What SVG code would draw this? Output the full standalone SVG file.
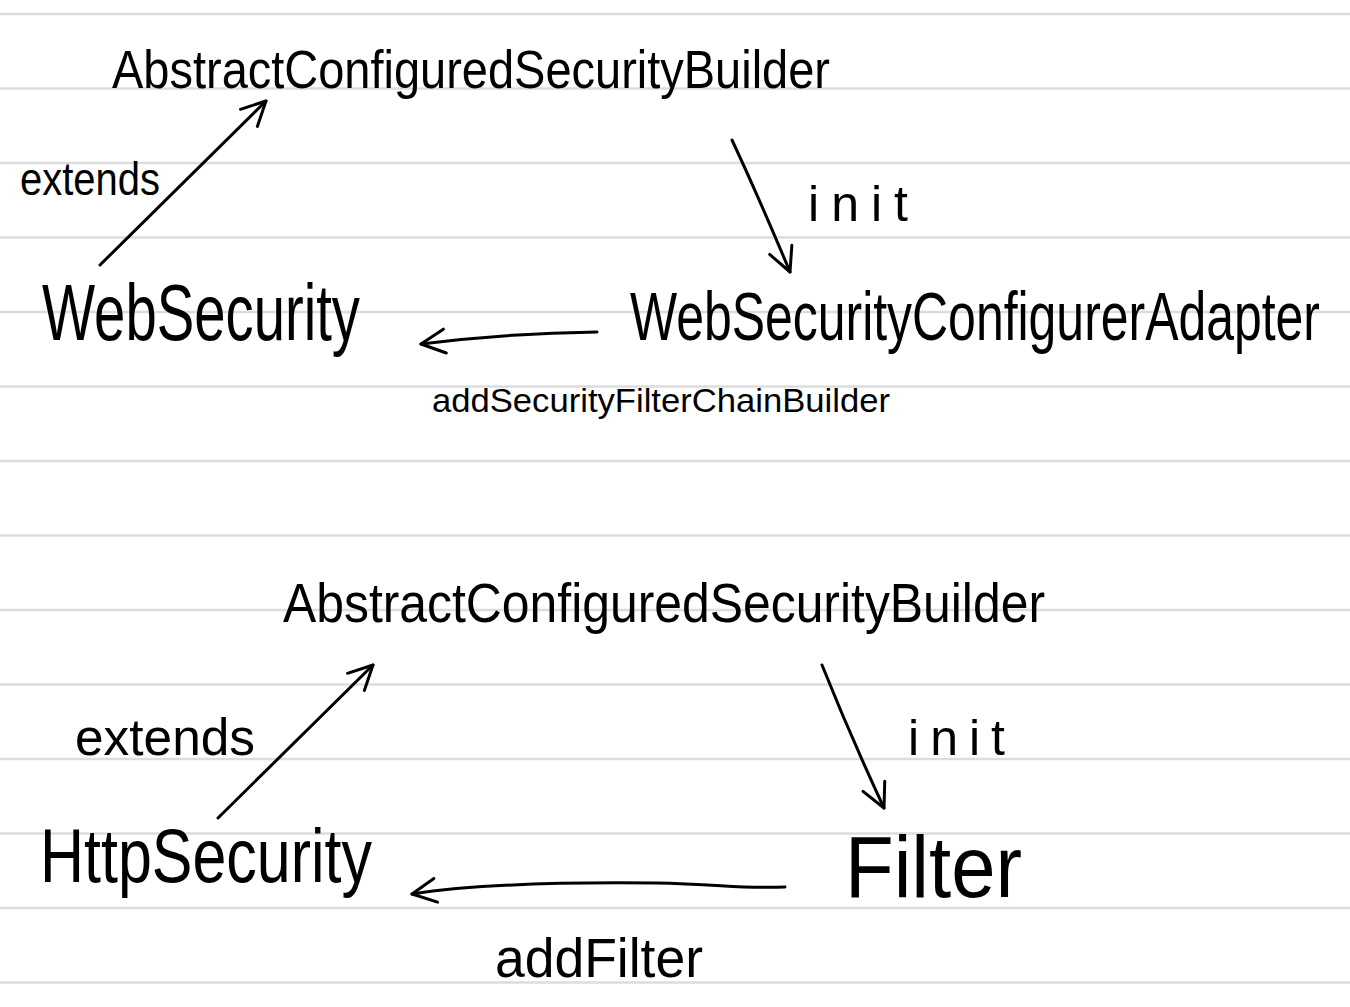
<svg xmlns="http://www.w3.org/2000/svg" width="1350" height="1007" viewBox="0 0 1350 1007">
<style>
.rule{stroke:#dcdcdc;stroke-width:2.5}
.t{font-family:"Liberation Sans","DejaVu Sans",sans-serif;fill:#000}
.c{fill:none;stroke:#000;stroke-width:3;stroke-linecap:round;stroke-linejoin:round}
</style>
<defs>
<marker id="head" viewBox="0 0 32 32" refX="29" refY="16" markerWidth="32" markerHeight="32" markerUnits="userSpaceOnUse" orient="auto">
<path d="M5,4 L29,16 L5,28" fill="none" stroke="#000" stroke-width="3" stroke-linecap="round" stroke-linejoin="round"/>
</marker>
</defs>
<rect width="1350" height="1007" fill="#fff"/>
<g id="paper-lines">
<line class="rule" x1="0" y1="14" x2="1350" y2="14"/>
<line class="rule" x1="0" y1="88.5" x2="1350" y2="88.5"/>
<line class="rule" x1="0" y1="163" x2="1350" y2="163"/>
<line class="rule" x1="0" y1="237.5" x2="1350" y2="237.5"/>
<line class="rule" x1="0" y1="312" x2="1350" y2="312"/>
<line class="rule" x1="0" y1="386.5" x2="1350" y2="386.5"/>
<line class="rule" x1="0" y1="461" x2="1350" y2="461"/>
<line class="rule" x1="0" y1="535.5" x2="1350" y2="535.5"/>
<line class="rule" x1="0" y1="610" x2="1350" y2="610"/>
<line class="rule" x1="0" y1="684.5" x2="1350" y2="684.5"/>
<line class="rule" x1="0" y1="759" x2="1350" y2="759"/>
<line class="rule" x1="0" y1="833.5" x2="1350" y2="833.5"/>
<line class="rule" x1="0" y1="908" x2="1350" y2="908"/>
<line class="rule" x1="0" y1="982.5" x2="1350" y2="982.5"/>
</g>
<g id="connectors">
<path class="c" d="M100,265 L266,101" marker-end="url(#head)"/>
<path class="c" d="M732,140 Q760,200 790,272" marker-end="url(#head)"/>
<path class="c" d="M597,332 Q510,333 421,344" marker-end="url(#head)"/>
<path class="c" d="M218,818 L373,665" marker-end="url(#head)"/>
<path class="c" d="M822,665 Q850,735 884,808" marker-end="url(#head)"/>
<path class="c" d="M785,887 C740,889 720,884 655,883 C560,882 470,885 412,894" marker-end="url(#head)"/>
</g>
<g id="label-extends-top"><text class="t" x="20" y="195" font-size="46" textLength="140" lengthAdjust="spacingAndGlyphs">extends</text></g>
<g id="label-init-top"><text class="t" x="808" y="221" font-size="50" textLength="100" lengthAdjust="spacing">init</text></g>
<g id="label-addSecurityFilterChainBuilder"><text class="t" x="432" y="412" font-size="34" textLength="458" lengthAdjust="spacingAndGlyphs">addSecurityFilterChainBuilder</text></g>
<g id="label-extends-bottom"><text class="t" x="75" y="755" font-size="52" textLength="180" lengthAdjust="spacingAndGlyphs">extends</text></g>
<g id="label-init-bottom"><text class="t" x="908" y="755" font-size="50" textLength="97" lengthAdjust="spacing">init</text></g>
<g id="label-addFilter"><text class="t" x="495" y="977" font-size="56" textLength="208" lengthAdjust="spacingAndGlyphs">addFilter</text></g>
<g id="node-abstract-top"><text class="t" x="112" y="88" font-size="54" textLength="718" lengthAdjust="spacingAndGlyphs">AbstractConfiguredSecurityBuilder</text></g>
<g id="node-websecurity"><text class="t" x="42" y="340" font-size="80" textLength="318" lengthAdjust="spacingAndGlyphs">WebSecurity</text></g>
<g id="node-websecurityconfigureradapter"><text class="t" x="630" y="340" font-size="68" textLength="690" lengthAdjust="spacingAndGlyphs">WebSecurityConfigurerAdapter</text></g>
<g id="node-abstract-bottom"><text class="t" x="283" y="622" font-size="56" textLength="762" lengthAdjust="spacingAndGlyphs">AbstractConfiguredSecurityBuilder</text></g>
<g id="node-httpsecurity"><text class="t" x="40" y="882" font-size="76" textLength="332" lengthAdjust="spacingAndGlyphs">HttpSecurity</text></g>
<g id="node-filter"><text class="t" x="845" y="897" font-size="88" textLength="177" lengthAdjust="spacingAndGlyphs">Filter</text></g>
</svg>
